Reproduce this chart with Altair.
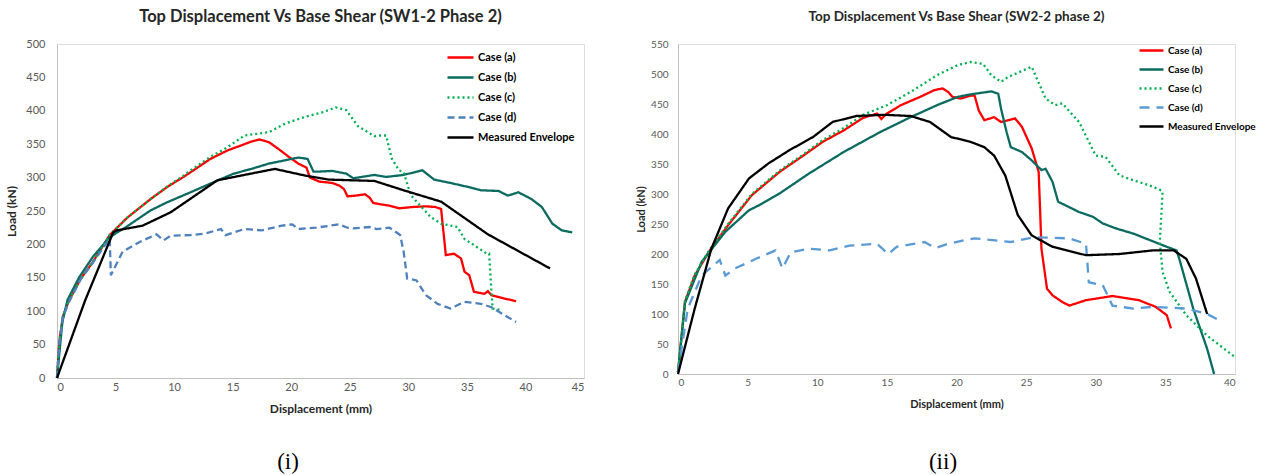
import altair as alt
import pandas as pd

SERIES = ["Case (a)", "Case (b)", "Case (c)", "Case (d)", "Measured Envelope"]

# ---------------- Panel (i) : SW1-2 Phase 2 ----------------
a1_x = [0, 0.2, 0.5, 1, 2, 3, 4.5, 6, 8, 9.5, 10.8, 12, 13.1, 14.6, 15.7, 16.6, 17.3, 18.1, 18.9, 19.8, 20.6, 21.3, 21.6, 22.4, 23.5, 24.1, 24.5, 24.8, 25.5, 26.3, 26.7, 27.0, 28.0, 28.4, 29.2, 30.4, 31.5, 32.3, 32.8, 33.2, 33.9, 34.5, 34.8, 35.2, 35.6, 36.5, 36.8, 37.1, 38.2, 39.2]
a1_y = [0, 55, 92, 115, 148, 172, 214, 240, 268, 287, 301, 315, 328, 341, 348, 354, 357, 353, 343, 331, 321, 315, 300, 294, 292, 288, 283, 272, 273, 275, 270, 262, 259, 258, 254, 256, 257, 256, 253, 184, 186, 179, 159, 154, 129, 126, 130, 124, 119, 115]

b1_x = [0, 0.46, 0.9, 1.9, 3.05, 4.5, 5.9, 8, 9.4, 11.4, 13.1, 15.1, 16.6, 18.1, 19.5, 20.6, 21.4, 21.9, 22.4, 23.5, 24.7, 25.3, 27.1, 28.1, 29.6, 31.2, 32.2, 33.6, 35.1, 36.2, 37.7, 38.5, 39.4, 40.5, 41.4, 42.3, 43.1, 44]
b1_y = [0, 84, 117, 151, 181, 211, 226, 251, 263, 278, 291, 306, 313, 321, 326, 330, 328, 309, 309, 310, 306, 299, 304, 301, 304, 311, 297, 292, 286, 281, 280, 273, 278, 268, 256, 231, 221, 218]

c1_x = [0, 0.2, 0.5, 1, 2, 3, 4.5, 6, 8, 9.5, 10.8, 12, 13.1, 14.6, 16, 18.1, 19.5, 21.2, 22.7, 23.8, 24.7, 25.7, 27.1, 27.6, 28.1, 28.6, 29.2, 29.6, 30.2, 31.9, 32.8, 34.2, 34.8, 35.6, 36.7, 36.9, 37.1, 37.2, 37.9]
c1_y = [0, 55, 92, 115, 148, 172, 214, 240, 268, 288, 303, 318, 331, 346, 363, 368, 381, 391, 398, 405, 401, 377, 362, 363, 363, 328, 311, 308, 274, 241, 231, 226, 208, 199, 186, 186, 129, 104, 102]

d1_x = [0, 0.2, 0.5, 1, 2, 3, 4.5, 4.6, 5.6, 7.1, 8.5, 9.1, 9.7, 11.4, 12.6, 14, 14.4, 16, 17.5, 19.2, 20.1, 20.6, 22.1, 24.1, 24.8, 25.3, 26.7, 27.3, 28.4, 29.3, 29.6, 29.9, 30.7, 31.5, 32.5, 33.6, 34.8, 36.2, 37.1, 38.2, 39.2]
d1_y = [0, 52, 90, 113, 147, 171, 209, 154, 189, 204, 215, 206, 213, 214, 216, 223, 214, 223, 221, 228, 230, 223, 225, 230, 225, 224, 226, 223, 225, 214, 189, 149, 146, 124, 111, 104, 114, 111, 106, 94, 84]

e1_x = [0, 2.4, 4.8, 5.1, 7.3, 9.7, 11.7, 13.7, 16, 18.6, 21.2, 23.2, 27.1, 29.6, 32.8, 36.8, 42.1]
e1_y = [0, 116, 218, 221, 228, 248, 272, 296, 304, 313, 303, 297, 295, 281, 264, 215, 164]

# ---------------- Panel (ii) : SW2-2 phase 2 ----------------
a2_x = [0, 0.5, 1.2, 2.2, 3.6, 5.3, 7.3, 9, 10.4, 11.9, 13.3, 14.3, 14.6, 15, 16, 17.4, 18.4, 19, 19.4, 19.7, 20.3, 21, 21.3, 21.6, 22, 22.7, 23.2, 24.2, 24.7, 25.4, 25.9, 26.0, 26.1, 26.5, 26.9, 27.6, 28.1, 29.3, 31.2, 33.1, 34.3, 35.1, 35.4]
a2_y = [3, 120, 164, 203, 248, 298, 337, 364, 387, 406, 427, 434, 425, 434, 448, 462, 473, 476, 470, 462, 459, 464, 464, 439, 423, 428, 420, 426, 412, 376, 337, 276, 209, 142, 131, 120, 114, 123, 130, 123, 112, 98, 76]

b2_x = [0, 0.5, 1.7, 3.4, 5.1, 5.8, 7.3, 9.4, 11.9, 14.5, 16.7, 18.6, 20.1, 21, 22.5, 23, 23.2, 23.6, 23.9, 24.7, 25.4, 26.1, 26.4, 26.9, 27.3, 28.1, 28.8, 29.8, 30.5, 31.4, 32.7, 33.9, 35.1, 35.8, 36, 37, 38, 38.5]
b2_y = [3, 118, 187, 237, 273, 281, 301, 334, 370, 403, 428, 448, 462, 466, 471, 467, 442, 403, 378, 370, 356, 340, 342, 320, 287, 278, 270, 262, 251, 243, 234, 223, 212, 206, 192, 109, 42, 0]

c2_x = [0, 0.5, 1.2, 2.2, 3.6, 5.3, 7.3, 9, 10.4, 11.9, 13.3, 15, 16.7, 18.6, 20.1, 21, 21.9, 22.5, 23.2, 23.7, 25.4, 26.4, 27.1, 27.6, 28.8, 30, 30.7, 31.7, 32.7, 33.9, 34.7, 34.8, 34.6, 34.8, 35.3, 36.5, 38, 40]
c2_y = [3, 122, 166, 205, 250, 300, 339, 366, 390, 410, 432, 448, 470, 498, 515, 520, 517, 498, 487, 495, 512, 459, 448, 451, 420, 364, 362, 331, 323, 314, 306, 303, 220, 170, 137, 98, 64, 28]

d2_x = [0, 0.7, 1.7, 3, 3.4, 4.1, 5.6, 7, 7.5, 8.1, 9.4, 10.9, 12.3, 14.3, 15.1, 15.7, 16.7, 17.7, 18.5, 19.4, 20.6, 21.3, 23.9, 25.6, 28.1, 29.3, 29.5, 30.5, 31.2, 32.7, 34.1, 36.5, 38, 38.9]
d2_y = [3, 109, 164, 190, 164, 176, 192, 206, 176, 203, 209, 206, 214, 217, 200, 212, 216, 220, 210, 217, 223, 226, 220, 228, 226, 217, 153, 148, 114, 109, 112, 109, 100, 89]

e2_x = [0, 1.2, 2.4, 3.6, 5.1, 6.5, 8, 9.7, 11.1, 12.8, 14.8, 16.7, 18.1, 19.6, 21, 22, 22.7, 23.5, 24.4, 25.4, 26.9, 29.3, 31.7, 34.1, 35.6, 36.5, 37.2, 38]
e2_y = [0, 109, 209, 276, 326, 351, 373, 395, 420, 430, 432, 430, 420, 395, 387, 378, 364, 331, 265, 231, 212, 198, 200, 206, 206, 192, 159, 100]

X1_TICKS = list(range(0, 46, 5))
Y1_TICKS = list(range(0, 501, 50))
X2_TICKS = list(range(0, 41, 5))
Y2_TICKS = list(range(0, 551, 50))

FONT = "Lato"


def long_df(pairs):
    rows = []
    for name, xs, ys in pairs:
        for i, (x, y) in enumerate(zip(xs, ys)):
            rows.append({"d": x, "L": y, "s": name, "i": i})
    return pd.DataFrame(rows)


def panel(df, title, xmax, ymax, xt, yt, w, h, colors, dashes, lx, ly,
          caption, cx, cy, fs, lab_pad, tit_pad, sym, rowpad):
    legend = alt.Legend(title=None, orient="none", legendX=lx, legendY=ly,
                        symbolType="stroke", symbolSize=sym, symbolStrokeWidth=2.3,
                        labelFont=FONT, labelFontSize=fs["leg"], labelFontWeight="bold",
                        labelColor="#000000", labelOffset=3, rowPadding=rowpad, padding=0)
    lines = alt.Chart(df).mark_line(strokeWidth=2.3, clip=False).encode(
        x=alt.X("d:Q", scale=alt.Scale(domain=[0, xmax], nice=False, zero=True),
                axis=alt.Axis(values=xt, title="Displacement (mm)", grid=False, ticks=False,
                              domainColor="#bfbfbf", domainWidth=1,
                              labelFont=FONT, labelFontSize=fs["lab"], labelColor="#595959",
                              labelPadding=fs["xlp"], titleFont=FONT, titleFontSize=fs["tit"],
                              titleFontWeight="bold", titleColor="#262626", titlePadding=fs["xtp"])),
        y=alt.Y("L:Q", scale=alt.Scale(domain=[0, ymax], nice=False),
                axis=alt.Axis(values=yt, title="Load (kN)", grid=False, ticks=False,
                              domainColor="#bfbfbf", domainWidth=1,
                              labelFont=FONT, labelFontSize=fs["lab"], labelColor="#595959",
                              labelPadding=lab_pad, titleFont=FONT, titleFontSize=fs["tit"],
                              titleFontWeight="bold", titleColor="#262626", titlePadding=tit_pad)),
        color=alt.Color("s:N", scale=alt.Scale(domain=SERIES, range=colors), legend=legend),
        strokeDash=alt.StrokeDash("s:N", scale=alt.Scale(domain=SERIES, range=dashes), legend=legend),
        order="i:Q",
    )
    cap = alt.Chart(alt.Data(values=[{"t": caption}])).mark_text(
        font="Liberation Serif", fontSize=23, color="#000000", align="center", baseline="middle"
    ).encode(x=alt.value(cx), y=alt.value(cy), text="t:N")
    return alt.layer(lines, cap).properties(
        width=w, height=h,
        title=alt.TitleParams(title, font=FONT, fontSize=fs["head"], fontWeight="bold",
                              color="#262626", anchor="middle", frame="group", offset=fs["off"]),
    )


df1 = long_df([(SERIES[0], a1_x, a1_y), (SERIES[1], b1_x, b1_y), (SERIES[2], c1_x, c1_y),
               (SERIES[3], d1_x, d1_y), (SERIES[4], e1_x, e1_y)])
df2 = long_df([(SERIES[0], a2_x, a2_y), (SERIES[1], b2_x, b2_y), (SERIES[2], c2_x, c2_y),
               (SERIES[3], d2_x, d2_y), (SERIES[4], e2_x, e2_y)])

p1 = panel(df1, "Top Displacement Vs Base Shear (SW1-2 Phase 2)", 45, 500, X1_TICKS, Y1_TICKS,
           527, 334,
           ["#ff0000", "#0b6b60", "#00b050", "#4f81bd", "#000000"],
           [[1, 0], [1, 0], [2, 3], [7, 4], [1, 0]],
           389, -1, "(i)", 231, 418,
           {"leg": 11, "lab": 11, "tit": 12, "head": 16.5, "off": 13, "xlp": 3, "xtp": 11},
           12, 7, 676, -4)
p2 = panel(df2, "Top Displacement Vs Base Shear (SW2-2 phase 2)", 40, 550, X2_TICKS, Y2_TICKS,
           557, 330,
           ["#ff0000", "#0b6b60", "#00b050", "#5b9bd5", "#000000"],
           [[1, 0], [1, 0], [2, 3], [10, 7], [1, 0]],
           460, -7, "(ii)", 265, 418,
           {"leg": 10, "lab": 10, "tit": 11, "head": 13.5, "off": 14, "xlp": 3, "xtp": 11},
           10, 4, 576, -4)

chart = alt.hconcat(p1, p2, spacing=50).resolve_scale(
    color="independent", strokeDash="independent", x="independent", y="independent"
).resolve_legend(color="independent", strokeDash="independent").properties(
    padding={"left": 5, "top": 8, "right": 0, "bottom": 0}
).configure_view(stroke=None).configure(background="#ffffff")

chart.save("out.html", embed_options={"renderer": "svg", "actions": False})
